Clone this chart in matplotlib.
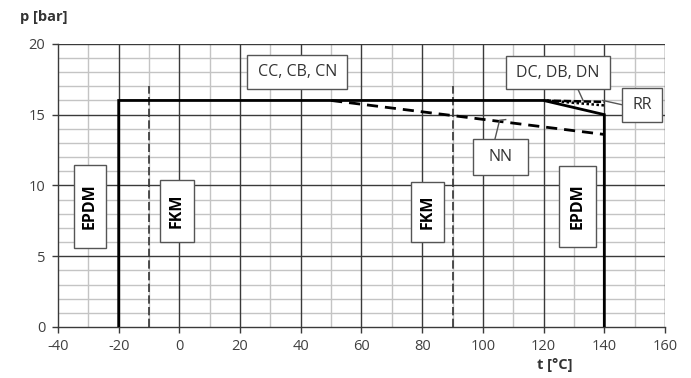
import matplotlib.pyplot as plt
import matplotlib.patches as mpatches
import numpy as np

plt.rcParams['font.family'] = ['Open Sans', 'DejaVu Sans']
plt.rcParams['axes.unicode_minus'] = False

# ─── DATOS ───────────────────────────────────────────────────────────────────
# curva principal (CC, CB, CN) y limite EPDM
t_main = [-20, -20, 120, 140, 140]
p_main = [0, 16, 16, 15, 0]

# limites FKM (discontinuos)
t_fkm = [-10, 90]
p_fkm_top = 17

# NN
t_nn = [50, 140]
p_nn = [16, 13.6]

# DC, DB, DN
t_dc = [120, 140]
p_dc = [16, 15.9]

# RR
t_rr = [121, 140]
p_rr = [16, 15.65]

xticks = np.arange(-40, 161, 20)
yticks = np.arange(0, 21, 5)

# etiquetas: texto, x0, x1, y0, y1, vertical
etiquetas = [
    ('CC, CB, CN', 22.3, 55.3, 16.8, 19.2, False),
    ('DC, DB, DN', 107.6, 141.9, 16.8, 19.15, False),
    ('RR', 145.8, 159.0, 14.5, 16.9, False),
    ('NN', 96.7, 114.9, 10.7, 13.3, False),
    ('EPDM', -34.7, -24.2, 5.6, 11.45, True),
    ('FKM', -6.4, 4.8, 6.0, 10.4, True),
    ('FKM', 76.3, 87.2, 6.0, 10.25, True),
    ('EPDM', 125.0, 137.3, 5.65, 11.4, True),
]

# ─── FIGURA ──────────────────────────────────────────────────────────────────
fig = plt.figure(figsize=(6.91, 3.78), dpi=100)
ax = fig.add_axes([0.0839, 0.135, 0.8785, 0.749])

ax.set_xlim(-40, 160)
ax.set_ylim(0, 20)

# rejilla
for xv in np.arange(-30, 161, 20):
    ax.axvline(xv, color='#c4c4c4', lw=1.0, zorder=0)
for yv in np.arange(1, 21, 1):
    if yv % 5:
        ax.axhline(yv, color='#c4c4c4', lw=1.0, zorder=0)
for xv in np.arange(-20, 161, 20):
    ax.axvline(xv, color='#3a3a3a', lw=1.0, zorder=1)
for yv in np.arange(5, 21, 5):
    ax.axhline(yv, color='#3a3a3a', lw=1.0, zorder=1)

ax.set_xticks(xticks)
ax.set_yticks(yticks)
ax.tick_params(axis='both', labelsize=10.5, labelcolor='#404040', color='#3a3a3a',
               length=4, width=1.0, direction='out', pad=5)
for s in ['top', 'right']:
    ax.spines[s].set_visible(False)
for s in ['left', 'bottom']:
    ax.spines[s].set_color('#3a3a3a')
    ax.spines[s].set_linewidth(1.0)

# curvas
ax.plot(t_main, p_main, color='black', lw=2.0, zorder=4, solid_joinstyle='miter')
for tv in t_fkm:
    ax.plot([tv, tv], [0, p_fkm_top], color='#333333', lw=1.2, ls=(0, (5, 2)), zorder=3)
ax.plot(t_nn, p_nn, color='black', lw=2.0, ls=(0, (4, 2.5)), zorder=4)
ax.plot(t_dc, p_dc, color='black', lw=1.8, ls=(0, (3, 1)), zorder=4)
ax.plot(t_rr, p_rr, color='black', lw=1.8, ls=(0, (1, 1)), zorder=4)

# lineas de referencia de etiquetas
ax.plot([131.3, 133.0], [16.8, 16.0], color='#555555', lw=1.0, zorder=5)
ax.plot([145.8, 139.5], [15.7, 16.0], color='#555555', lw=1.0, zorder=5)
ax.plot([104.0, 105.5, 107.5], [13.3, 14.6, 14.65], color='#555555', lw=1.0, zorder=5)

# cajas de etiquetas
for txt, x0, x1, y0, y1, vert in etiquetas:
    ax.add_patch(mpatches.Rectangle((x0, y0), x1 - x0, y1 - y0, fc='white',
                                    ec='#555555', lw=1.0, zorder=6))
    ax.text((x0 + x1) / 2, (y0 + y1) / 2, txt, ha='center', va='center',
            fontsize=11.5, rotation=90 if vert else 0,
            fontweight='bold' if vert else 'normal',
            color='black' if vert else '#333333', zorder=7)

fig.text(0.029, 0.955, 'p [bar]', fontsize=10.5, fontweight='bold', color='#333333',
         ha='left', va='center')
fig.text(0.803, 0.035, 't [°C]', fontsize=10.5, fontweight='bold', color='#333333',
         ha='center', va='center')

plt.savefig('out.png', dpi=100)
plt.close()
